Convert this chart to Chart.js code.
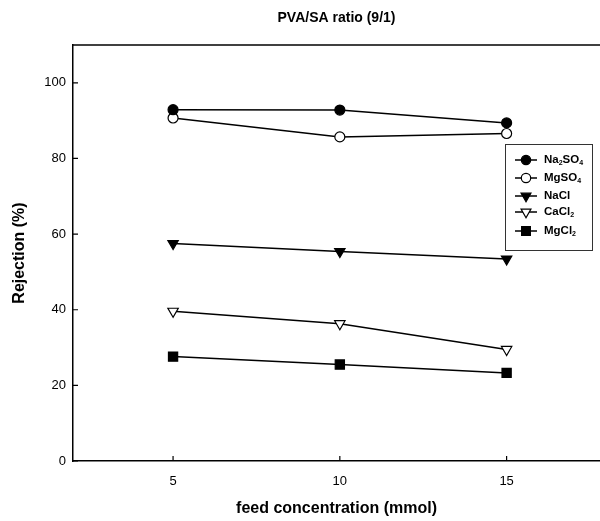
<!DOCTYPE html>
<html lang="en">
<head>
    <meta charset="UTF-8">
    <title>PVA/SA ratio (9/1)</title>
    <script src="https://cdn.jsdelivr.net/npm/chart.js"></script>
    <style>
        html, body { margin: 0; padding: 0; background: #fff; }
        .wrap { width: 600px; height: 521px; }
    </style>
</head>
<body>
    <div class="wrap"><canvas id="rejChart" width="600" height="521"></canvas></div>

    <script>
        // feed concentration (mmol) and rejection (%) per salt
        const concentrations = [5, 10, 15];
        const na2so4 = [92.9, 92.8, 89.4];
        const mgso4 = [90.7, 85.7, 86.6];
        const nacl = [57.5, 55.4, 53.4];
        const cacl2 = [39.6, 36.3, 29.5];
        const mgcl2 = [27.6, 25.5, 23.3];

        const saltNames = ['Na2SO4', 'MgSO4', 'NaCl', 'CaCl2', 'MgCl2'];
        const xTicks = [5, 10, 15];
        const yTicks = [0, 20, 40, 60, 80, 100];

        const FONT = '"Liberation Sans", Arial, sans-serif';

        const toPoints = vals => vals.map((v, i) => ({ x: concentrations[i], y: v }));

        const styles = [
            { pointStyle: 'circle', fill: '#000', radius: 5, rotation: 0 },
            { pointStyle: 'circle', fill: '#fff', radius: 5, rotation: 0 },
            { pointStyle: 'triangle', fill: '#000', radius: 6, rotation: 180 },
            { pointStyle: 'triangle', fill: '#fff', radius: 6, rotation: 180 },
            { pointStyle: 'rect', fill: '#000', radius: 6.5, rotation: 0 }
        ];

        const series = [na2so4, mgso4, nacl, cacl2, mgcl2];

        const datasets = series.map((vals, i) => ({
            label: saltNames[i],
            data: toPoints(vals),
            borderColor: '#000',
            borderWidth: 1.5,
            pointStyle: styles[i].pointStyle,
            pointRotation: styles[i].rotation,
            pointRadius: styles[i].radius,
            pointBackgroundColor: styles[i].fill,
            pointBorderColor: '#000',
            pointBorderWidth: 1.2,
            tension: 0
        }));

        // title, top frame line, inward ticks and the boxed legend
        const decorations = {
            id: 'decorations',
            afterDraw(chart) {
                const { ctx, chartArea: a, scales: { x, y } } = chart;
                ctx.save();

                ctx.fillStyle = '#000';
                ctx.font = 'bold 14px ' + FONT;
                ctx.textAlign = 'center';
                ctx.textBaseline = 'middle';
                ctx.fillText('PVA/SA ratio (9/1)', (a.left + a.right) / 2, 18);

                ctx.strokeStyle = '#000';
                ctx.lineWidth = 1.5;
                ctx.beginPath();
                ctx.moveTo(a.left, a.top);
                ctx.lineTo(a.right, a.top);
                ctx.stroke();

                ctx.lineWidth = 1.2;
                ctx.beginPath();
                yTicks.forEach(v => {
                    const py = y.getPixelForValue(v);
                    ctx.moveTo(a.left, py);
                    ctx.lineTo(a.left + 5, py);
                });
                xTicks.forEach(v => {
                    const px = x.getPixelForValue(v);
                    ctx.moveTo(px, a.bottom);
                    ctx.lineTo(px, a.bottom - 5);
                });
                ctx.stroke();

                // legend box
                const bx = 505, by = 144, bw = 87, bh = 106;
                ctx.lineWidth = 1;
                ctx.strokeStyle = '#333';
                ctx.strokeRect(bx + 0.5, by + 0.5, bw, bh);

                const rowY = [160, 178, 196, 212, 231];
                chart.data.datasets.forEach((ds, i) => {
                    const cy = rowY[i];
                    ctx.strokeStyle = '#000';
                    ctx.lineWidth = 1.5;
                    ctx.beginPath();
                    ctx.moveTo(515, cy);
                    ctx.lineTo(537, cy);
                    ctx.stroke();

                    ctx.fillStyle = ds.pointBackgroundColor;
                    ctx.strokeStyle = '#000';
                    ctx.lineWidth = 1.2;
                    Chart.helpers.drawPoint(ctx, {
                        pointStyle: ds.pointStyle,
                        rotation: ds.pointRotation,
                        radius: ds.pointRadius - 0.3,
                        borderWidth: 1.2
                    }, 526, cy);

                    // label with digits as subscripts
                    let tx = 544;
                    ctx.fillStyle = '#000';
                    ctx.textAlign = 'left';
                    ctx.textBaseline = 'middle';
                    for (const part of ds.label.match(/\d+|\D+/g)) {
                        const sub = /^\d+$/.test(part);
                        ctx.font = sub ? 'bold 7px ' + FONT : 'bold 11.5px ' + FONT;
                        ctx.fillText(part, tx, sub ? cy + 3 : cy);
                        tx += ctx.measureText(part).width;
                    }
                });

                ctx.restore();
            }
        };

        new Chart(document.getElementById('rejChart'), {
            type: 'line',
            data: { datasets },
            options: {
                responsive: false,
                animation: false,
                layout: {
                    autoPadding: false,
                    padding: { top: 45, left: 0, right: 0, bottom: 0 }
                },
                plugins: {
                    legend: { display: false },
                    tooltip: { enabled: false }
                },
                scales: {
                    x: {
                        type: 'linear',
                        min: 2,
                        max: 17.8,
                        afterFit(scale) {
                            scale.height = 60;
                            scale.paddingLeft = 0;
                            scale.paddingRight = 0;
                        },
                        afterBuildTicks(scale) { scale.ticks = xTicks.map(v => ({ value: v })); },
                        grid: { display: true, drawOnChartArea: false, drawTicks: false },
                        border: { display: true, color: '#000', width: 1.5 },
                        ticks: {
                            padding: 13,
                            color: '#000',
                            font: { family: FONT, size: 13 },
                            maxRotation: 0
                        },
                        title: {
                            display: true,
                            text: 'feed concentration (mmol)',
                            color: '#000',
                            font: { family: FONT, size: 16, weight: 'bold' },
                            padding: { top: 0, bottom: 3 }
                        }
                    },
                    y: {
                        min: 0,
                        max: 110,
                        afterFit(scale) {
                            scale.width = 73;
                            scale.paddingTop = 0;
                            scale.paddingBottom = 0;
                        },
                        afterBuildTicks(scale) { scale.ticks = yTicks.map(v => ({ value: v })); },
                        grid: { display: true, drawOnChartArea: false, drawTicks: false },
                        border: { display: true, color: '#000', width: 1.5 },
                        ticks: {
                            padding: 7,
                            color: '#000',
                            font: { family: FONT, size: 13 }
                        },
                        title: {
                            display: true,
                            text: 'Rejection (%)',
                            color: '#000',
                            font: { family: FONT, size: 16, weight: 'bold' },
                            padding: { top: 10, bottom: 0 }
                        }
                    }
                }
            },
            plugins: [decorations]
        });
    </script>
</body>
</html>
